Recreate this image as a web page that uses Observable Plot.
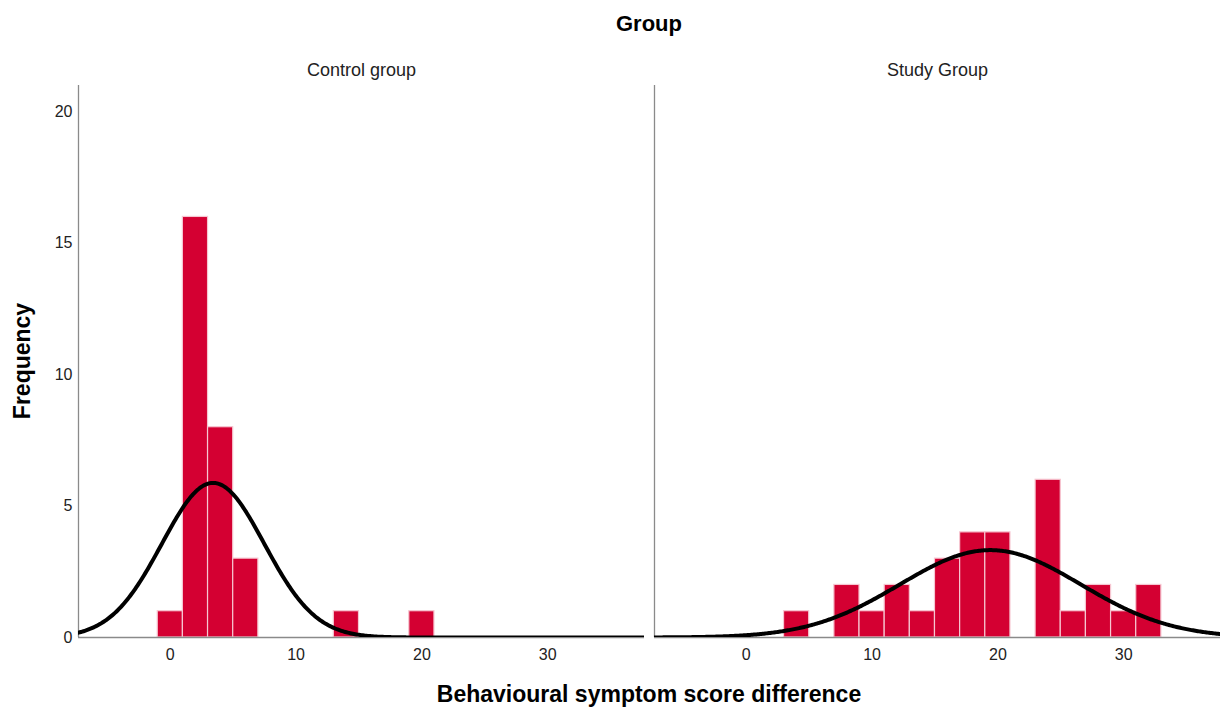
<!DOCTYPE html>
<html>
<head>
<meta charset="utf-8">
<script src="https://cdn.jsdelivr.net/npm/d3@7"></script>
<script src="https://cdn.jsdelivr.net/npm/@observablehq/plot@0.6"></script>
<style>
  body { margin: 0; background: #fff; font-family: "Liberation Sans", Arial, sans-serif; }
  #wrap { position: relative; width: 1220px; height: 713px; }
  .lbl { position: absolute; font-weight: bold; color: #000; white-space: nowrap; }
</style>
</head>
<body>
<div id="wrap">
  <div id="chart"></div>
  <div class="lbl" id="title" style="left:78px; width:1142px; top:11px; text-align:center; font-size:22px;"></div>
  <div class="lbl" id="ylab" style="left:22px; top:361px; font-size:23px; transform:translate(-50%,-50%) rotate(-90deg);"></div>
  <div class="lbl" id="xlab" style="left:78px; width:1142px; top:681px; text-align:center; font-size:23px;"></div>
</div>
<script>
// ---- data ----
const groups = ["Control group", "Study Group"];
const controlBinCenters = [0, 2, 4, 6, 14, 20];
const controlCounts     = [1, 16, 8, 3, 1, 1];
const studyBinCenters   = [4, 8, 10, 12, 14, 16, 18, 20, 24, 26, 28, 30, 32];
const studyCounts       = [1, 2, 1, 2, 1, 3, 4, 4, 6, 1, 2, 1, 2];
const binWidth = 2;
const groupN    = [30, 30];
const groupMean = [3.4, 19.4];
const groupSD   = [4.07, 7.2];
const xTicks = [0, 10, 20, 30];
const yTicks = [0, 5, 10, 15, 20];
const xDomain = [-7.3, 37.7];
const yDomain = [0, 21];
const titleText = "Group";
const yLabel = "Frequency";
const xLabel = "Behavioural symptom score difference";

// ---- build tables ----
const bars = [
  ...controlBinCenters.map((c, i) => ({group: groups[0], x1: c - binWidth / 2, x2: c + binWidth / 2, count: controlCounts[i]})),
  ...studyBinCenters.map((c, i) => ({group: groups[1], x1: c - binWidth / 2, x2: c + binWidth / 2, count: studyCounts[i]}))
];

// fitted normal curves (from each group's mean and SD, scaled to counts)
const curve = [];
groups.forEach((g, gi) => {
  const m = groupMean[gi], s = groupSD[gi], k = groupN[gi] * binWidth / (s * Math.sqrt(2 * Math.PI));
  for (const x of d3.range(xDomain[0], xDomain[1] + 0.001, 0.1)) {
    curve.push({group: g, x, y: k * Math.exp(-((x - m) ** 2) / (2 * s * s))});
  }
});

const chart = Plot.plot({
  width: 1220,
  height: 713,
  marginLeft: 78,
  marginRight: 0,
  marginTop: 85,
  marginBottom: 76,
  style: {fontFamily: "'Liberation Sans', Arial, sans-serif", fontSize: "16px", color: "#222", background: "#fff"},
  fx: {domain: groups, paddingInner: 10 / 576, paddingOuter: 0, axis: null, label: null},
  x: {domain: xDomain, ticks: xTicks, tickSize: 0, tickPadding: 11, label: null, tickFormat: d => String(d)},
  y: {domain: yDomain, ticks: yTicks, tickSize: 0, tickPadding: 6, label: null, tickFormat: d => String(d)},
  marks: [
    Plot.rectY(bars, {fx: "group", x1: "x1", x2: "x2", y: "count", fill: "#d40032", stroke: "#f6c6d1", strokeWidth: 1.2}),
    Plot.ruleX(groups, {fx: d => d, x: xDomain[0], y1: 0, y2: yDomain[1], stroke: "#8a8a8a", strokeWidth: 1.3}),
    Plot.ruleY(groups, {fx: d => d, y: 0, stroke: "#8a8a8a", strokeWidth: 1.3}),
    Plot.line(curve, {fx: "group", x: "x", y: "y", stroke: "#000", strokeWidth: 4, clip: true}),
    Plot.text(groups, {fx: d => d, text: d => d, frameAnchor: "top", lineAnchor: "middle", dy: -15, fontSize: 18, fill: "#222"})
  ]
});
document.getElementById("chart").appendChild(chart);
document.getElementById("title").textContent = titleText;
document.getElementById("ylab").textContent = yLabel;
document.getElementById("xlab").textContent = xLabel;
</script>
</body>
</html>
